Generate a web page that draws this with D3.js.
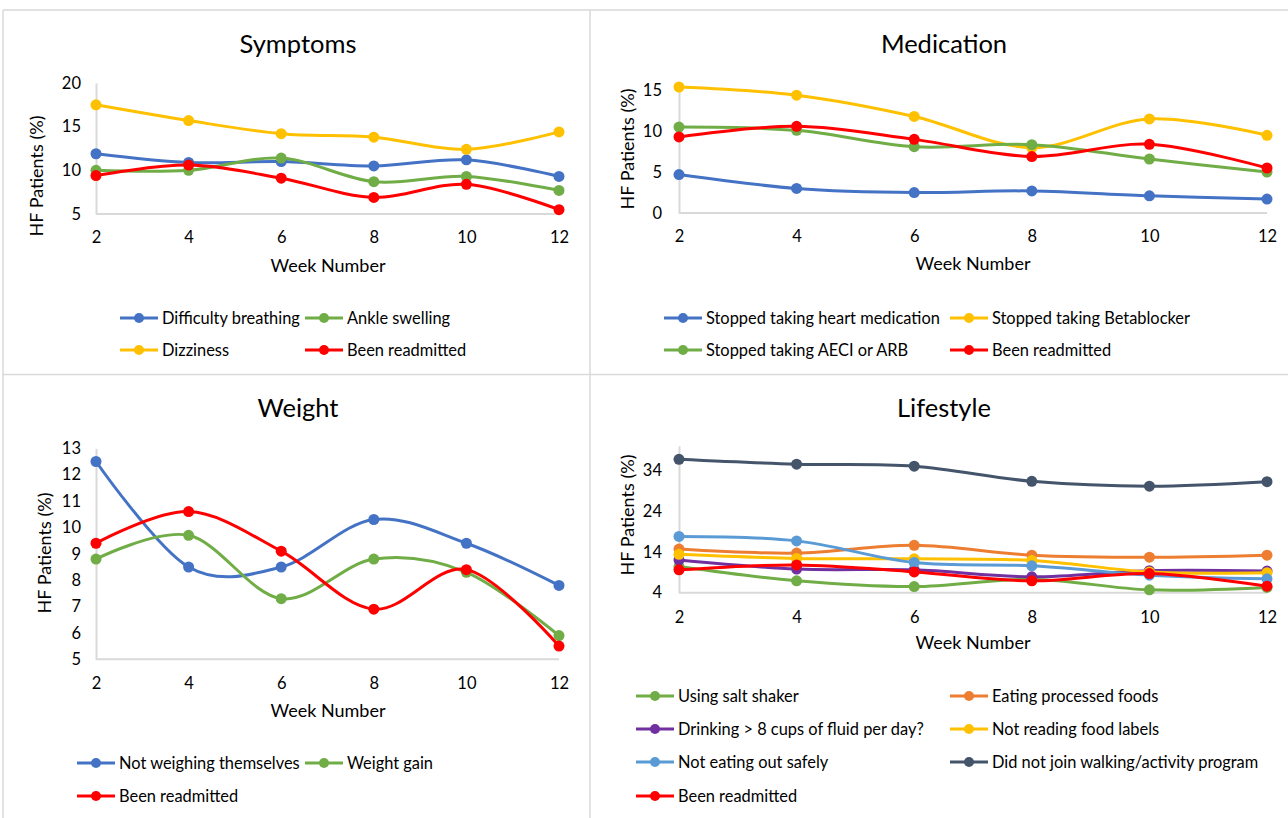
<!DOCTYPE html>
<html><head><meta charset="utf-8">
<script src="https://cdn.jsdelivr.net/npm/d3@7"></script>
<style>
body{margin:0;background:#fff}
svg{display:block}
text{font-family:Lato,'Open Sans',sans-serif;fill:#000}
</style>
</head><body>
<svg id="c" width="1288" height="818"></svg>
<script>
// ---------- DATA ----------
const weeks = [2, 4, 6, 8, 10, 12];

const symptomsNames = ["Difficulty breathing", "Ankle swelling", "Dizziness", "Been readmitted"];
const symDifficultyBreathing = [11.9, 10.9, 11.0, 10.5, 11.2, 9.3];
const symAnkleSwelling      = [10.0, 10.0, 11.4, 8.7, 9.3, 7.7];
const symDizziness          = [17.5, 15.7, 14.2, 13.8, 12.4, 14.4];
const symReadmitted         = [9.4, 10.6, 9.1, 6.9, 8.4, 5.5];
const symptomsTicks = [5, 10, 15, 20];

const medicationNames = ["Stopped taking heart medication", "Stopped taking Betablocker", "Stopped taking AECI or ARB", "Been readmitted"];
const medHeart       = [4.7, 3.0, 2.5, 2.7, 2.1, 1.7];
const medBetablocker = [15.4, 14.4, 11.8, 8.0, 11.5, 9.5];
const medAeciArb     = [10.5, 10.1, 8.1, 8.35, 6.6, 5.0];
const medReadmitted  = [9.3, 10.6, 9.0, 6.9, 8.4, 5.5];
const medicationTicks = [0, 5, 10, 15];

const weightNames = ["Not weighing themselves", "Weight gain", "Been readmitted"];
const wtNotWeighing = [12.5, 8.5, 8.5, 10.3, 9.4, 7.8];
const wtGain        = [8.8, 9.7, 7.3, 8.8, 8.3, 5.9];
const wtReadmitted  = [9.4, 10.6, 9.1, 6.9, 8.4, 5.5];
const weightTicks = [5, 6, 7, 8, 9, 10, 11, 12, 13];

const lifestyleNames = ["Using salt shaker", "Eating processed foods", "Drinking > 8 cups of fluid per day?", "Not reading food labels", "Not eating out safely", "Did not join walking/activity program", "Been readmitted"];
const lsSaltShaker   = [10.4, 6.9, 5.5, 7.3, 4.7, 5.3];
const lsProcessed    = [14.7, 13.7, 15.6, 13.2, 12.7, 13.2];
const lsDrinking     = [12.0, 9.8, 9.6, 7.9, 9.4, 9.3];
const lsFoodLabels   = [13.4, 12.4, 12.3, 11.9, 9.1, 8.9];
const lsEatingOut    = [17.8, 16.7, 11.4, 10.6, 8.3, 7.4];
const lsWalking      = [36.7, 35.5, 35.0, 31.3, 30.1, 31.2];
const lsReadmitted   = [9.6, 10.8, 9.1, 6.9, 8.7, 5.6];
const lifestyleTicks = [4, 14, 24, 34];

const panelTitles = ["Symptoms", "Medication", "Weight", "Lifestyle"];
const xAxisTitle = "Week Number";
const yAxisTitle = "HF Patients (%)";

// ---------- STYLE ----------
const C = {blue:"#4472C4", orange:"#ED7D31", yellow:"#FFC000", green:"#70AD47", red:"#FF0000",
           purple:"#7030A0", lblue:"#5B9BD5", navy:"#44546A"};
const AXIS = "#d9d9d9";

const svg = d3.select("#c");

// panel borders
const border = svg.append("g").attr("fill","none").attr("stroke",AXIS).attr("stroke-width",1.5);
border.append("line").attr("x1",3).attr("x2",1288).attr("y1",10).attr("y2",10);
border.append("line").attr("x1",3).attr("x2",3).attr("y1",10).attr("y2",818);
border.append("line").attr("x1",590).attr("x2",590).attr("y1",10).attr("y2",818);
border.append("line").attr("x1",3).attr("x2",1288).attr("y1",374.5).attr("y2",374.5);

const panels = [
  { title: panelTitles[0], titleX: 298, titleY: 44,
    x0: 96, x1: 559, yTopPx: 83, yBotPx: 214, domain: [5, 20], ticks: symptomsTicks,
    tickLabelX: 81, xLabelY: 237, xTitle: {x: 328, y: 266}, yTitle: {x: 37, y: 176},
    series: [
      {name: symptomsNames[0], values: symDifficultyBreathing, color: C.blue},
      {name: symptomsNames[1], values: symAnkleSwelling, color: C.green},
      {name: symptomsNames[2], values: symDizziness, color: C.yellow},
      {name: symptomsNames[3], values: symReadmitted, color: C.red}],
    legend: {cols: [120, 305], rows: [318, 350], lineLen: 38, ncol: 2} },
  { title: panelTitles[1], titleX: 944, titleY: 44,
    x0: 679, x1: 1267, yTopPx: 82.1, yBotPx: 213, domain: [0, 16], ticks: medicationTicks,
    tickLabelX: 662, xLabelY: 236, xTitle: {x: 973, y: 264}, yTitle: {x: 628, y: 149},
    series: [
      {name: medicationNames[0], values: medHeart, color: C.blue},
      {name: medicationNames[1], values: medBetablocker, color: C.yellow},
      {name: medicationNames[2], values: medAeciArb, color: C.green},
      {name: medicationNames[3], values: medReadmitted, color: C.red}],
    legend: {cols: [664, 950], rows: [318, 350], lineLen: 38, ncol: 2} },
  { title: panelTitles[2], titleX: 298, titleY: 408,
    x0: 96, x1: 559, yTopPx: 448.3, yBotPx: 659.3, domain: [5, 13], ticks: weightTicks,
    tickLabelX: 81, xLabelY: 683, xTitle: {x: 328, y: 711}, yTitle: {x: 45, y: 553},
    series: [
      {name: weightNames[0], values: wtNotWeighing, color: C.blue},
      {name: weightNames[1], values: wtGain, color: C.green},
      {name: weightNames[2], values: wtReadmitted, color: C.red}],
    legend: {cols: [77, 305], rows: [763, 796], lineLen: 38, ncol: 2} },
  { title: panelTitles[3], titleX: 944, titleY: 408,
    x0: 679, x1: 1267, yTopPx: 445.8, yBotPx: 592.7, domain: [4, 40], ticks: lifestyleTicks,
    tickLabelX: 662, xLabelY: 617, xTitle: {x: 973, y: 643}, yTitle: {x: 628, y: 515},
    series: [
      {name: lifestyleNames[0], values: lsSaltShaker, color: C.green},
      {name: lifestyleNames[1], values: lsProcessed, color: C.orange},
      {name: lifestyleNames[2], values: lsDrinking, color: C.purple},
      {name: lifestyleNames[3], values: lsFoodLabels, color: C.yellow},
      {name: lifestyleNames[4], values: lsEatingOut, color: C.lblue},
      {name: lifestyleNames[5], values: lsWalking, color: C.navy},
      {name: lifestyleNames[6], values: lsReadmitted, color: C.red}],
    legend: {cols: [636, 950], rows: [696, 729, 762, 796], lineLen: 38, ncol: 2} }
];

panels.forEach(p => {
  const g = svg.append("g");
  const x = d3.scalePoint().domain(weeks).range([p.x0, p.x1]);
  const y = d3.scaleLinear().domain(p.domain).range([p.yBotPx, p.yTopPx]);

  g.append("text").attr("x", p.titleX).attr("y", p.titleY).attr("dy", "0.35em")
    .attr("text-anchor", "middle").style("font-size", "25.5px").text(p.title);

  // y axis
  const ya = g.append("g").attr("transform", `translate(${p.x0},0)`)
    .call(d3.axisLeft(y).tickValues(p.ticks).tickSize(0).tickPadding(p.x0 - p.tickLabelX));
  ya.select(".domain").attr("stroke", AXIS).attr("stroke-width", 2);
  ya.selectAll("text").style("font-size", "16.5px").style("font-family", "Lato, sans-serif").attr("fill", "#000");

  // x axis
  const xa = g.append("g").attr("transform", `translate(0,${p.yBotPx})`)
    .call(d3.axisBottom(x).tickSize(0).tickPadding(0));
  xa.select(".domain").attr("stroke", AXIS).attr("stroke-width", 2).attr("d", `M${p.x0},0H${p.x1}`);
  xa.selectAll("text").attr("y", p.xLabelY - p.yBotPx).attr("dy", "0.35em")
    .style("font-size", "16.5px").style("font-family", "Lato, sans-serif").attr("fill", "#000");

  g.append("text").attr("x", p.xTitle.x).attr("y", p.xTitle.y).attr("dy", "0.35em")
    .attr("text-anchor", "middle").style("font-size", "18px").text(xAxisTitle);
  g.append("text").attr("transform", `translate(${p.yTitle.x},${p.yTitle.y}) rotate(-90)`)
    .attr("dy", "0.35em").attr("text-anchor", "middle").style("font-size", "18px").text(yAxisTitle);

  const line = d3.line().x((d, i) => x(weeks[i])).y(d => y(d)).curve(d3.curveCatmullRom.alpha(0));
  p.series.forEach(s => {
    const sg = g.append("g");
    sg.append("path").attr("d", line(s.values)).attr("fill", "none")
      .attr("stroke", s.color).attr("stroke-width", 3);
    sg.selectAll("circle").data(s.values).join("circle")
      .attr("cx", (d, i) => x(weeks[i])).attr("cy", d => y(d)).attr("r", 5.5).attr("fill", s.color);
  });

  // legend
  p.series.forEach((s, i) => {
    const cx = p.legend.cols[i % p.legend.ncol];
    const cy = p.legend.rows[Math.floor(i / p.legend.ncol)];
    const lg = g.append("g");
    lg.append("line").attr("x1", cx).attr("x2", cx + p.legend.lineLen).attr("y1", cy).attr("y2", cy)
      .attr("stroke", s.color).attr("stroke-width", 3);
    lg.append("circle").attr("cx", cx + p.legend.lineLen / 2).attr("cy", cy).attr("r", 5).attr("fill", s.color);
    lg.append("text").attr("x", cx + p.legend.lineLen + 4).attr("y", cy).attr("dy", "0.35em")
      .style("font-size", "16.4px").text(s.name);
  });
});
</script>
</body></html>
